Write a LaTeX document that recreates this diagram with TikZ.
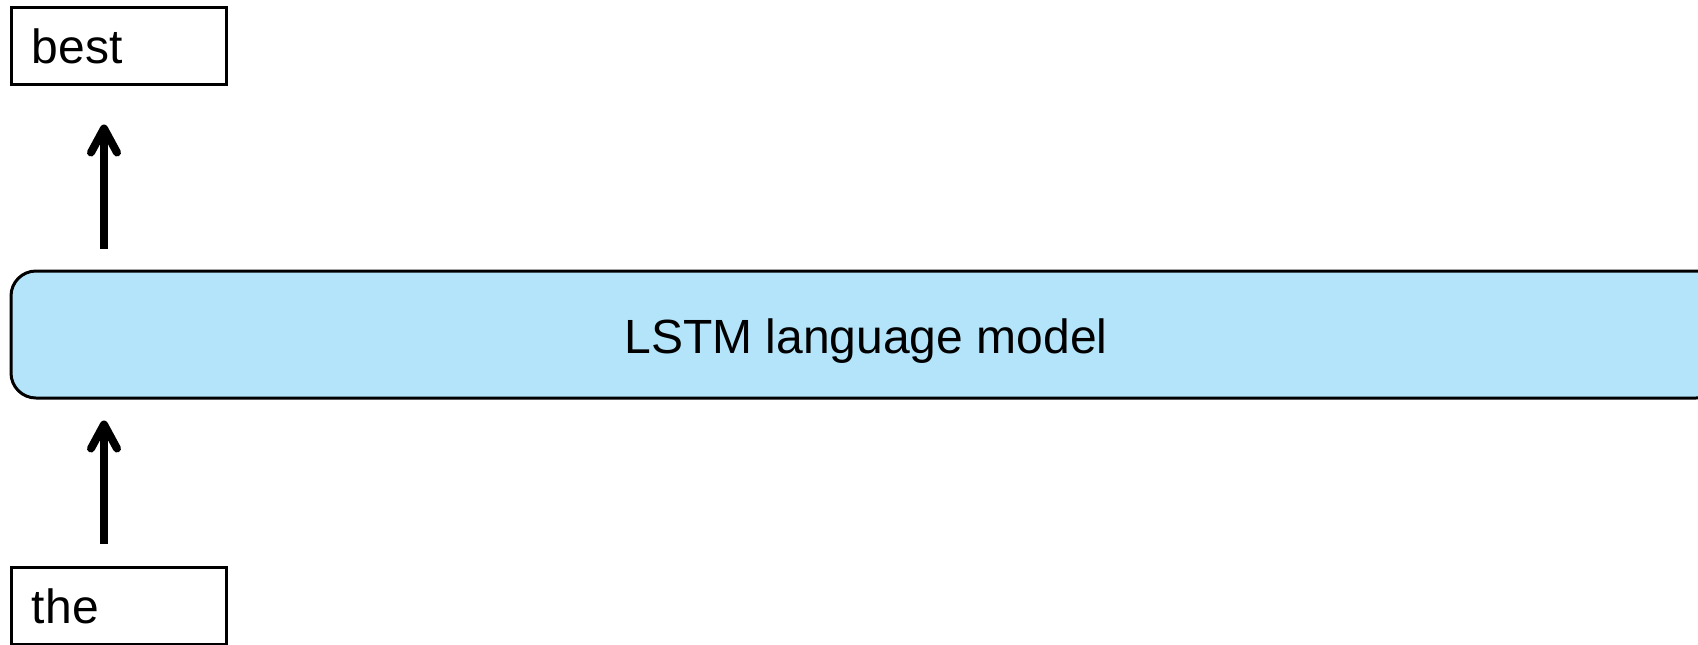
\documentclass[tikz,border=0pt]{standalone}
\usepackage{fontspec}
\setmainfont{Liberation Sans}
\usetikzlibrary{arrows.meta}
\definecolor{lstmblue}{RGB}{179,228,250}
\tikzset{
  wordbox/.style={draw=black, line width=1.5pt, minimum width=107.5pt, minimum height=38.5pt,
    text width=86.5pt, inner xsep=10.5pt, inner ysep=0pt, align=left,
    text height=17.5pt, text depth=0pt, font=\fontsize{24}{26}\selectfont},
  lmbox/.style={draw=black, line width=1.5pt, fill=lstmblue, rounded corners=12.5pt,
    minimum width=855pt, minimum height=63.5pt, inner ysep=0pt,
    text height=18.5pt, text depth=0pt, font=\fontsize{24}{26}\selectfont},
  arr/.style={line width=4pt, -{Straight Barb[length=12pt,width=13pt,round]}}
}
\begin{document}
\begin{tikzpicture}[x=0.5pt,y=-0.5pt]
\clip (0,0) rectangle (1698,644);
\fill[white] (0,0) rectangle (1698,644);
\node[wordbox] (best) at (118.5,45.5) {best};
\node[lmbox] (lm) at (866,334.5) {LSTM language model};
\node[wordbox] (the) at (118.5,605.5) {the};
\coordinate (ax) at (104,0);
\draw[arr, shorten <=10.5pt, shorten >=19.5pt] (lm.north -| ax) -- (best.south -| ax);
\draw[arr, shorten <=11pt, shorten >=10.5pt] (the.north -| ax) -- (lm.south -| ax);
\end{tikzpicture}
\end{document}
